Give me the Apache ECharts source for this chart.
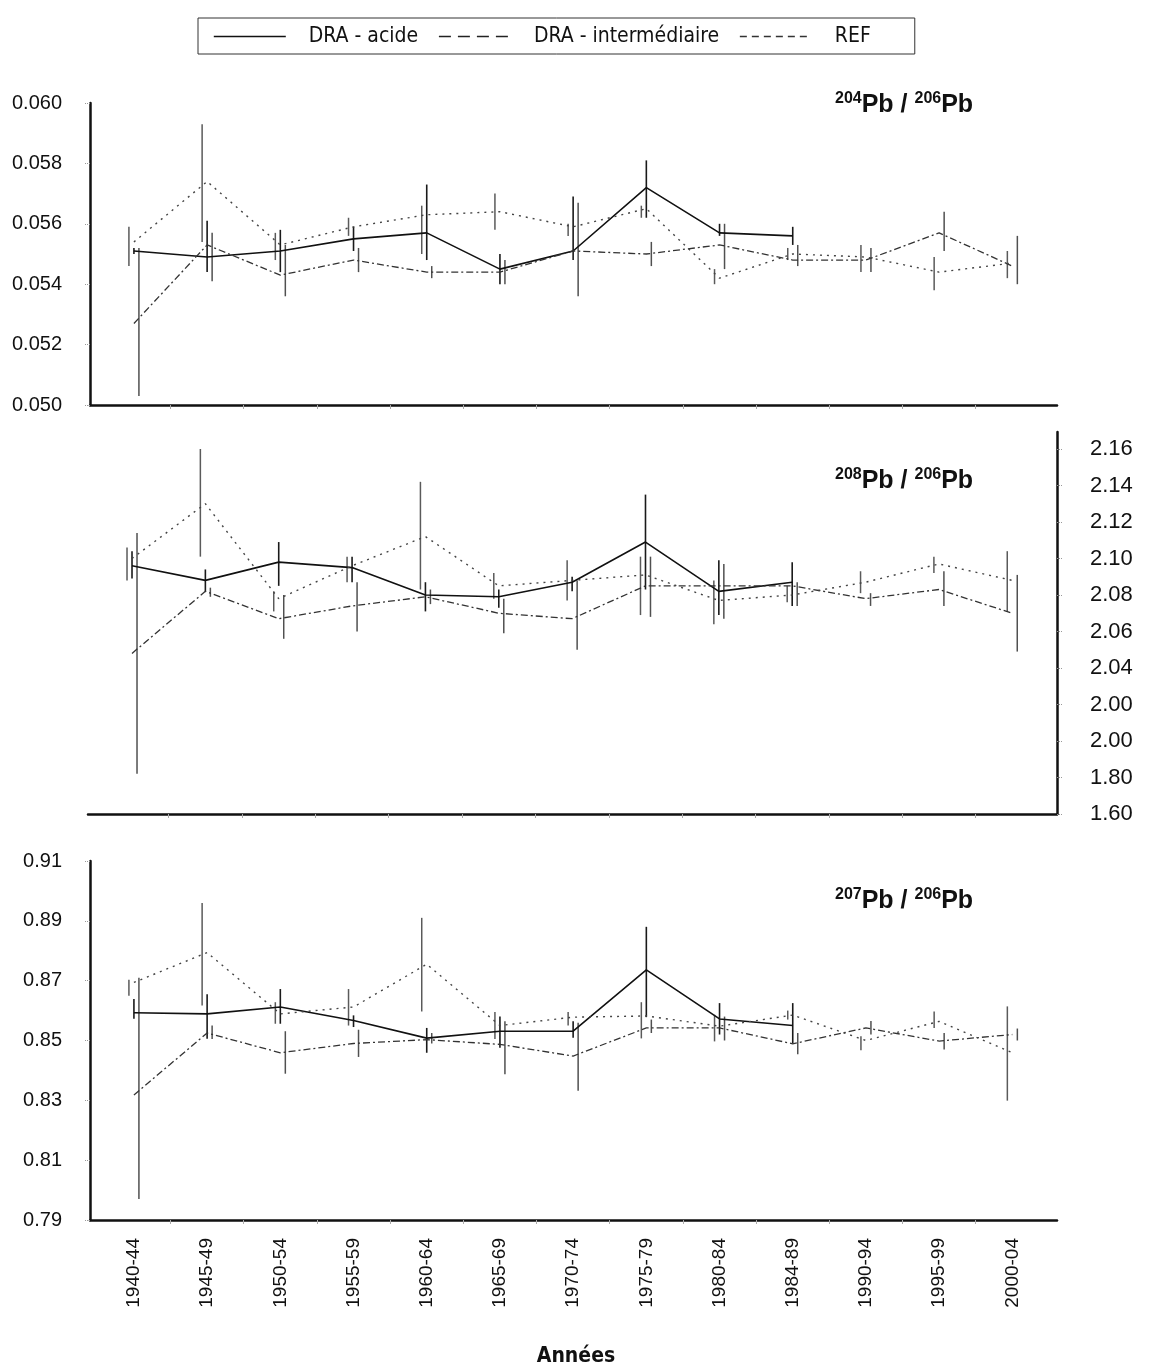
<!DOCTYPE html>
<html>
<head>
<meta charset="utf-8">
<script src="https://cdn.jsdelivr.net/npm/echarts@6/dist/echarts.min.js"></script>
<style>
  html, body { margin: 0; padding: 0; background: #fff; }
  #chart { width: 1152px; height: 1370px; }
</style>
</head>
<body>
<div id="chart"></div>
<script>
// Periods (x axis)
const categories = ['1940-44','1945-49','1950-54','1955-59','1960-64','1965-69','1970-74','1975-79','1980-84','1984-89','1990-94','1995-99','2000-04'];

// 204Pb / 206Pb
const acide204 = [0.0551, 0.0549, 0.0551, 0.0555, 0.0557, 0.0545, 0.0551, 0.0572, 0.0557, 0.0556, null, null, null];
const acide204Low = [0.0550, 0.0544, 0.0544, 0.0551, 0.0548, 0.0540, 0.0548, 0.0562, 0.0556, 0.0553, null, null, null];
const acide204High = [0.0552, 0.0561, 0.0558, 0.0559, 0.0573, 0.0550, 0.0569, 0.0581, 0.0560, 0.0559, null, null, null];
const inter204 = [0.0527, 0.0553, 0.0543, 0.0548, 0.0544, 0.0544, 0.0551, 0.0550, 0.0553, 0.0548, 0.0548, 0.0557, 0.0546];
const inter204Low = [0.0503, 0.0541, 0.0536, 0.0544, 0.0542, 0.0540, 0.0536, 0.0546, 0.0545, 0.0546, 0.0544, 0.0551, 0.0540];
const inter204High = [0.0552, 0.0557, 0.0553, 0.0552, 0.0546, 0.0548, 0.0567, 0.0554, 0.0560, 0.0553, 0.0552, 0.0564, 0.0556];
const ref204 = [0.0554, 0.0574, 0.0553, 0.0559, 0.0563, 0.0564, 0.0559, 0.0565, 0.0542, 0.0550, 0.0549, 0.0544, 0.0547];
const ref204Low = [0.0546, 0.0554, 0.0548, 0.0556, 0.0550, 0.0558, 0.0556, 0.0562, 0.0540, 0.0548, 0.0544, 0.0538, 0.0542];
const ref204High = [0.0559, 0.0593, 0.0557, 0.0562, 0.0566, 0.0570, 0.0560, 0.0566, 0.0545, 0.0552, 0.0553, 0.0549, 0.0551];

// 208Pb / 206Pb
const acide208 = [2.096, 2.088, 2.098, 2.095, 2.080, 2.079, 2.087, 2.109, 2.082, 2.087, null, null, null];
const acide208Low = [2.089, 2.082, 2.085, 2.087, 2.071, 2.073, 2.082, 2.083, 2.069, 2.074, null, null, null];
const acide208High = [2.104, 2.094, 2.109, 2.101, 2.087, 2.083, 2.090, 2.135, 2.099, 2.098, null, null, null];
const inter208 = [2.048, 2.082, 2.067, 2.074, 2.079, 2.070, 2.067, 2.085, 2.085, 2.085, 2.078, 2.083, 2.070];
const inter208Low = [1.982, 2.079, 2.056, 2.060, 2.075, 2.059, 2.050, 2.068, 2.067, 2.074, 2.074, 2.074, 2.049];
const inter208High = [2.114, 2.084, 2.080, 2.087, 2.083, 2.078, 2.088, 2.101, 2.097, 2.087, 2.081, 2.093, 2.091];
const ref208 = [2.100, 2.130, 2.078, 2.096, 2.112, 2.085, 2.088, 2.091, 2.077, 2.080, 2.087, 2.097, 2.088];
const ref208Low = [2.088, 2.101, 2.071, 2.087, 2.083, 2.078, 2.077, 2.069, 2.064, 2.076, 2.081, 2.092, 2.071];
const ref208High = [2.106, 2.160, 2.082, 2.101, 2.142, 2.092, 2.099, 2.101, 2.088, 2.085, 2.093, 2.101, 2.104];

// 207Pb / 206Pb
const acide207 = [0.8593, 0.8589, 0.8612, 0.8567, 0.8508, 0.8531, 0.8531, 0.8736, 0.8572, 0.8550, null, null, null];
const acide207Low = [0.8573, 0.8506, 0.8556, 0.8545, 0.8459, 0.8476, 0.8509, 0.8578, 0.8520, 0.8490, null, null, null];
const acide207High = [0.8639, 0.8655, 0.8672, 0.8584, 0.8542, 0.8580, 0.8564, 0.8880, 0.8625, 0.8625, null, null, null];
const inter207 = [0.8318, 0.8525, 0.8459, 0.8490, 0.8503, 0.8487, 0.8448, 0.8542, 0.8542, 0.8489, 0.8542, 0.8498, 0.8520];
const inter207Low = [0.7970, 0.8505, 0.8389, 0.8445, 0.8490, 0.8387, 0.8332, 0.8525, 0.8500, 0.8454, 0.8520, 0.8470, 0.8500];
const inter207High = [0.8710, 0.8550, 0.8531, 0.8536, 0.8525, 0.8564, 0.8559, 0.8570, 0.8580, 0.8525, 0.8565, 0.8525, 0.8540];
const ref207 = [0.8694, 0.8794, 0.8589, 0.8612, 0.8755, 0.8550, 0.8578, 0.8582, 0.8548, 0.8585, 0.8500, 0.8564, 0.8459];
const ref207Low = [0.8650, 0.8617, 0.8556, 0.8550, 0.8597, 0.8505, 0.8550, 0.8507, 0.8497, 0.8570, 0.8467, 0.8542, 0.8299];
const ref207High = [0.8703, 0.8960, 0.8628, 0.8672, 0.8910, 0.8595, 0.8595, 0.8628, 0.8586, 0.8600, 0.8514, 0.8597, 0.8614];

// Tick values and labels
const ticks204 = [0.050, 0.052, 0.054, 0.056, 0.058, 0.060];
const ticks208 = [1.96, 1.98, 2.00, 2.02, 2.04, 2.06, 2.08, 2.10, 2.12, 2.14, 2.16];
const labels208 = ['1.60', '1.80', '2.00', '2.00', '2.04', '2.06', '2.08', '2.10', '2.12', '2.14', '2.16'];
const ticks207 = [0.79, 0.81, 0.83, 0.85, 0.87, 0.89, 0.91];

const seriesNames = ['DRA - acide', 'DRA - intermédiaire', 'REF'];

const FONT = '"Liberation Sans", Arial, sans-serif';
const NARROW = '"Liberation Sans Narrow", "DejaVu Sans Condensed", "Liberation Sans", sans-serif';

const lineStyles = [
  { color: '#111', width: 1.6, type: 'solid' },
  { color: '#333', width: 1.3, type: [7, 3, 2, 3] },
  { color: '#444', width: 1.4, type: [2, 5] }
];
const barStyles = [
  { color: '#1a1a1a', width: 1.6, dx: 0 },
  { color: '#505050', width: 1.5, dx: 5 },
  { color: '#5a5a5a', width: 1.5, dx: -5 }
];

const catIdx = categories.map((c, i) => i);
const catBounds = categories.slice(1).map((c, i) => i + 0.5);

const panels = [
  { vals: [acide204, inter204, ref204], lows: [acide204Low, inter204Low, ref204Low], highs: [acide204High, inter204High, ref204High] },
  { vals: [acide208, inter208, ref208], lows: [acide208Low, inter208Low, ref208Low], highs: [acide208High, inter208High, ref208High] },
  { vals: [acide207, inter207, ref207], lows: [acide207Low, inter207Low, ref207Low], highs: [acide207High, inter207High, ref207High] }
];

const grids = [
  { left: 90, top: 103, width: 967, height: 302 },
  { left: 88, top: 432, width: 969, height: 382 },
  { left: 90, top: 861, width: 967, height: 359 }
];

const xAxes = grids.map((g, gi) => ({
  type: 'value', gridIndex: gi, min: -0.6, max: 12.61,
  axisLine: { show: true, onZero: false, lineStyle: { color: '#111', width: 2.5 } },
  splitLine: { show: false },
  axisTick: { show: true, customValues: catBounds, length: 4, lineStyle: { color: '#aaa', width: 1 } },
  axisLabel: {
    show: gi === 2, customValues: catIdx, rotate: 90, margin: 18,
    fontSize: 19, fontFamily: FONT, color: '#111',
    formatter: v => categories[Math.round(v)]
  }
}));

const tickStyle = { show: true, length: 5, lineStyle: { color: '#999', width: 1, type: 'dotted' } };
const yAxes = [
  {
    type: 'value', gridIndex: 0, min: 0.050, max: 0.060, interval: 0.002,
    axisLine: { show: true, onZero: false, lineStyle: { color: '#111', width: 2.5 } },
    splitLine: { show: false }, axisTick: tickStyle,
    axisLabel: { margin: 28, fontSize: 20, fontFamily: FONT, color: '#111', formatter: v => v.toFixed(3) }
  },
  {
    type: 'value', gridIndex: 1, position: 'right', min: 1.96, max: 2.1693,
    axisLine: { show: true, onZero: false, lineStyle: { color: '#111', width: 2.5 } },
    splitLine: { show: false },
    axisTick: Object.assign({ customValues: ticks208 }, tickStyle),
    axisLabel: {
      customValues: ticks208, margin: 33, fontSize: 22, fontFamily: FONT, color: '#111',
      formatter: v => {
        const k = ticks208.findIndex(t => Math.abs(t - v) < 1e-6);
        return k >= 0 ? labels208[k] : '';
      }
    }
  },
  {
    type: 'value', gridIndex: 2, min: 0.79, max: 0.91,
    axisLine: { show: true, onZero: false, lineStyle: { color: '#111', width: 2.5 } },
    splitLine: { show: false },
    axisTick: Object.assign({ customValues: ticks207 }, tickStyle),
    axisLabel: { customValues: ticks207, margin: 28, fontSize: 20, fontFamily: FONT, color: '#111', formatter: v => v.toFixed(2) }
  }
];

const series = [];
panels.forEach((p, gi) => {
  p.vals.forEach((vals, si) => {
    // error bars
    const bs = barStyles[si];
    const data = [];
    p.lows[si].forEach((lo, i) => { if (lo != null) data.push([i, lo, p.highs[si][i]]); });
    series.push({
      type: 'custom', name: seriesNames[si] + ' (barres ' + gi + ')',
      xAxisIndex: gi, yAxisIndex: gi, z: 2, silent: true,
      encode: { x: 0, y: [1, 2] },
      data: data,
      renderItem: (params, api) => {
        const a = api.coord([api.value(0), api.value(1)]);
        const b = api.coord([api.value(0), api.value(2)]);
        return {
          type: 'line',
          shape: { x1: a[0] + bs.dx, y1: a[1], x2: b[0] + bs.dx, y2: b[1] },
          style: { stroke: bs.color, lineWidth: bs.width }
        };
      }
    });
    // mean line
    series.push({
      type: 'line', name: seriesNames[si], xAxisIndex: gi, yAxisIndex: gi, z: 3,
      symbol: 'none', animation: false, connectNulls: false,
      lineStyle: lineStyles[si],
      itemStyle: { color: lineStyles[si].color },
      data: vals.map((v, i) => [i, v])
    });
  });
});

function ratioTitle(a, b, top) {
  return {
    left: 830, top: top,
    text: '{s|' + a + '}{m|Pb / }{s|' + b + '}{m|Pb}',
    textStyle: {
      rich: {
        s: { fontSize: 16, fontWeight: 'bold', fontFamily: FONT, color: '#111', lineHeight: 16, verticalAlign: 'top' },
        m: { fontSize: 25, fontWeight: 'bold', fontFamily: FONT, color: '#111', lineHeight: 28 }
      }
    }
  };
}

const option = {
  animation: false,
  backgroundColor: '#fff',
  title: [
    ratioTitle('204', '206', 86),
    ratioTitle('208', '206', 462),
    ratioTitle('207', '206', 882)
  ],
  legend: {
    left: 198, top: 18,
    padding: [8, 44, 7, 15],
    borderColor: '#333', borderWidth: 1,
    itemWidth: 72, itemHeight: 14, itemGap: 20,
    itemStyle: { opacity: 0 },
    textStyle: { fontSize: 21, fontFamily: NARROW, color: '#111', padding: [0, 0, 0, 18] },
    data: [
      { name: seriesNames[0], lineStyle: { type: 'solid', color: '#111', width: 1.6 } },
      { name: seriesNames[1], lineStyle: { type: [12, 7], color: '#222', width: 1.4 } },
      { name: seriesNames[2], lineStyle: { type: [7, 5], color: '#333', width: 1.4 } }
    ]
  },
  grid: grids,
  xAxis: xAxes,
  yAxis: yAxes,
  series: series,
  graphic: [{
    type: 'text', left: 'center', top: 1346,
    style: { text: 'Années', fontSize: 21, fontWeight: 'bold', fontFamily: NARROW, fill: '#111' }
  }]
};

const chart = echarts.init(document.getElementById('chart'), null, { renderer: 'canvas' });
chart.setOption(option);
</script>
</body>
</html>
